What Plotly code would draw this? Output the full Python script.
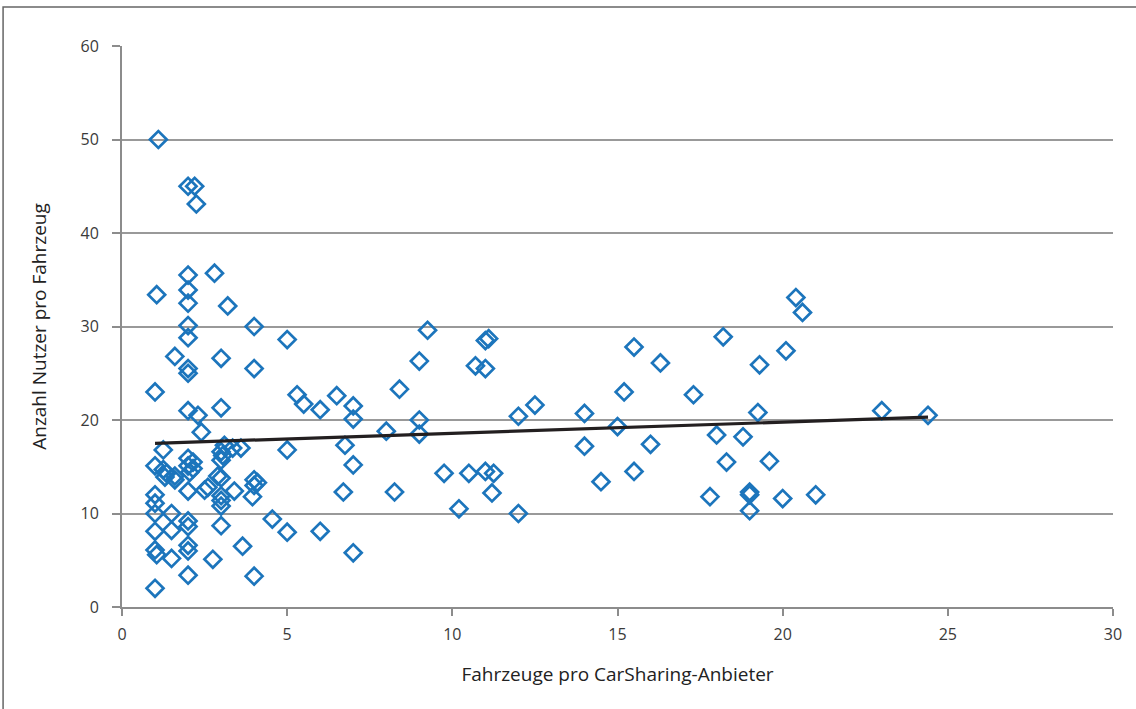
import plotly.graph_objects as go

fahrzeuge = [1.1, 1.05, 1.0, 1.0, 1.0, 1.0, 1.0, 1.0, 1.0, 1.05, 1.0, 1.25, 1.25, 1.35, 1.5, 1.5, 1.5, 1.6, 1.6,
             2.0, 2.2, 2.25, 2.0, 2.0, 2.0, 2.0, 2.0, 2.0, 2.0, 2.0, 2.0, 2.0, 2.05, 2.0, 2.0, 2.0, 2.0, 2.0, 2.0,
             2.3, 2.4, 2.15, 2.5, 2.75, 2.8, 3.0, 3.0, 3.2, 3.0, 3.0, 3.1, 3.0, 2.9, 3.0, 3.0, 3.0, 3.0, 3.35, 3.6,
             3.65, 4.0, 4.0, 4.0, 4.0, 3.95, 4.0, 4.1, 4.55, 5.0, 5.0, 5.0, 5.3, 5.5, 6.0, 6.0, 6.5, 6.7, 6.75,
             7.0, 7.0, 7.0, 7.0, 8.0, 8.25, 8.4, 9.0, 9.0, 9.0, 9.25, 9.75, 10.2, 10.5, 10.7, 11.0, 11.1, 11.0,
             11.0, 11.25, 11.2, 12.0, 12.0, 12.5, 14.0, 14.0, 14.5, 15.0, 15.2, 15.5, 15.5, 16.0, 16.3, 17.3, 17.8,
             18.0, 18.2, 18.3, 18.8, 19.0, 19.0, 19.0, 19.25, 19.3, 19.6, 20.0, 20.1, 20.4, 20.6, 21.0, 23.0, 24.4,
             1.3, 1.6, 2.15, 2.6, 3.05, 3.4]
nutzer = [50.0, 33.4, 23.0, 15.1, 12.0, 11.1, 10.0, 8.1, 6.1, 5.6, 2.0, 14.7, 16.8, 14.3, 10.0, 8.2, 5.2, 26.8, 13.6,
          45.0, 45.0, 43.1, 35.5, 33.9, 32.5, 30.1, 28.8, 25.5, 25.0, 21.0, 15.9, 15.1, 14.4, 12.4, 9.2, 8.6, 6.6, 6.0, 3.4,
          20.5, 18.7, 15.5, 12.5, 5.1, 35.7, 26.6, 21.3, 32.2, 16.6, 15.7, 17.3, 13.8, 14.0, 11.9, 11.4, 10.8, 8.7, 17.0, 17.0,
          6.5, 30.0, 25.5, 13.6, 13.0, 11.8, 3.3, 13.3, 9.4, 28.6, 16.8, 8.0, 22.7, 21.7, 21.1, 8.1, 22.6, 12.3, 17.3,
          21.5, 20.1, 15.2, 5.8, 18.8, 12.3, 23.3, 26.3, 20.0, 18.5, 29.6, 14.3, 10.5, 14.3, 25.8, 28.5, 28.7, 25.5,
          14.5, 14.3, 12.2, 10.0, 20.4, 21.6, 20.7, 17.2, 13.4, 19.3, 23.0, 14.5, 27.8, 17.4, 26.1, 22.7, 11.8,
          18.4, 28.9, 15.5, 18.2, 12.3, 12.0, 10.3, 20.8, 25.9, 15.6, 11.6, 27.4, 33.1, 31.5, 12.0, 21.0, 20.5,
          13.9, 14.0, 14.8, 12.8, 16.2, 12.4]

# linear trend line
trend_x = [1.0, 24.4]
trend_y = [17.5, 20.3]

x_ticks = [0, 5, 10, 15, 20, 25, 30]
y_ticks = [0, 10, 20, 30, 40, 50, 60]

fig = go.Figure()
fig.add_trace(go.Scatter(
    x=fahrzeuge, y=nutzer, mode="markers",
    marker=dict(symbol="diamond-open", size=13, color="#1c75bc", line=dict(width=2.7, color="#1c75bc")),
    showlegend=False, hoverinfo="skip"))
fig.add_trace(go.Scatter(
    x=trend_x, y=trend_y, mode="lines",
    line=dict(color="#231f20", width=3.2), showlegend=False, hoverinfo="skip"))

font_family = "Open Sans, Noto Sans, sans-serif"
fig.update_layout(
    width=1136, height=709,
    margin=dict(l=122, r=23, t=46, b=102),
    paper_bgcolor="white", plot_bgcolor="white",
    font=dict(family=font_family, size=16, color="#3a3a3a"),
    xaxis=dict(range=[0, 30], tickvals=x_ticks, showgrid=False, zeroline=False,
               showline=True, linecolor="#8c8c8c", linewidth=2,
               ticks="outside", ticklen=7, tickcolor="#8c8c8c", tickwidth=1.5,
               ticklabelstandoff=5,
               tickfont=dict(size=16, color="#3a3a3a"),
               title=dict(text="Fahrzeuge pro CarSharing-Anbieter", font=dict(size=19, color="#222"), standoff=23)),
    yaxis=dict(range=[0, 60], tickvals=y_ticks, showgrid=True, gridcolor="#999999", gridwidth=2,
               zeroline=False, showline=True, linecolor="#8c8c8c", linewidth=2,
               ticks="outside", ticklen=8, tickcolor="#8c8c8c", tickwidth=1.5,
               ticklabelstandoff=10,
               tickfont=dict(size=16, color="#3a3a3a"),
               title=dict(text="Anzahl Nutzer pro Fahrzeug", font=dict(size=19, color="#222"), standoff=29)),
    shapes=[dict(type="rect", xref="paper", yref="paper", x0=-0.12, x1=1.05, y0=-0.3, y1=1.0695,
                 line=dict(color="#666666", width=1.5), fillcolor="rgba(0,0,0,0)", layer="below")],
)
fig.write_html("out.html", config={"displayModeBar": False},
               post_script="document.body.style.margin='0';")
